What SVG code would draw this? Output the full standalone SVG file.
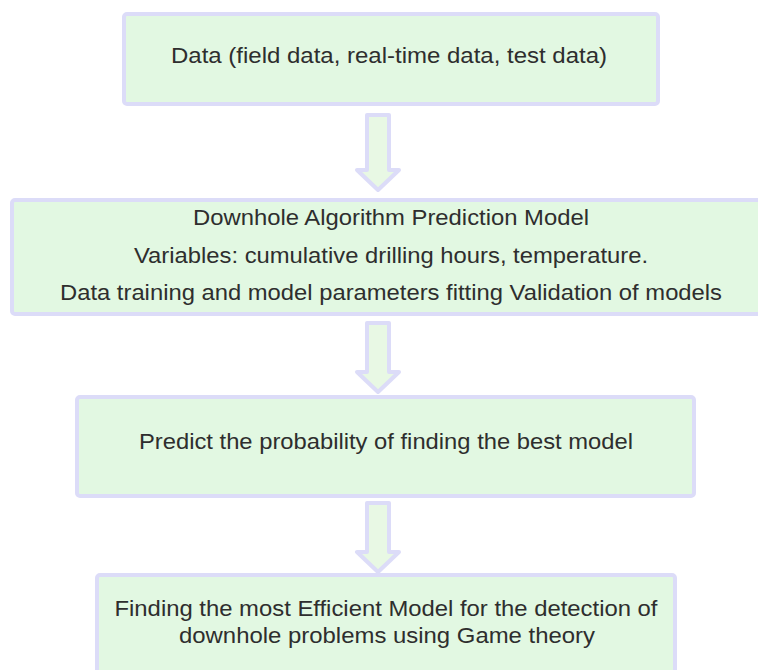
<svg xmlns="http://www.w3.org/2000/svg" width="758" height="670" viewBox="0 0 758 670">
<style>
.box{fill:#e2f8e2;stroke:#dcdcf8;stroke-width:4;}
.arr{fill:#e8f8e4;stroke:#dcdcf8;stroke-width:4;stroke-linejoin:round;}
text{font-family:"Liberation Sans",Arial,sans-serif;font-size:22px;fill:#2e2e2e;text-anchor:middle;}
</style>
<rect width="758" height="670" fill="#fff"/>
<g id="connectors">
<path class="arr" d="M367,115 H389 V170 H399 L378,190 L357,170 H367 Z"/>
<path class="arr" d="M367,323 H389 V372 H399 L378,392 L357,372 H367 Z"/>
<path class="arr" d="M367,503 H389 V552 H399 L378,572 L357,552 H367 Z"/>
</g>
<g id="n1">
<rect class="box" x="124" y="14" width="534" height="90" rx="3"/>
<text x="389" y="63" textLength="436" lengthAdjust="spacingAndGlyphs">Data (field data, real-time data, test data)</text>
</g>
<g id="n2">
<rect class="box" x="12" y="200" width="760" height="114" rx="3"/>
<text x="391" y="225" textLength="396" lengthAdjust="spacingAndGlyphs">Downhole Algorithm Prediction Model</text>
<text x="391" y="263" textLength="514" lengthAdjust="spacingAndGlyphs">Variables: cumulative drilling hours, temperature.</text>
<text x="391" y="300" textLength="662" lengthAdjust="spacingAndGlyphs">Data training and model parameters fitting Validation of models</text>
</g>
<g id="n3">
<rect class="box" x="77" y="397" width="617" height="99" rx="3"/>
<text x="386" y="449" textLength="494" lengthAdjust="spacingAndGlyphs">Predict the probability of finding the best model</text>
</g>
<g id="n4">
<rect class="box" x="97" y="575" width="578" height="110" rx="3"/>
<text x="386" y="616" textLength="543" lengthAdjust="spacingAndGlyphs">Finding the most Efficient Model for the detection of</text>
<text x="387" y="643" textLength="416" lengthAdjust="spacingAndGlyphs">downhole problems using Game theory</text>
</g>
</svg>
